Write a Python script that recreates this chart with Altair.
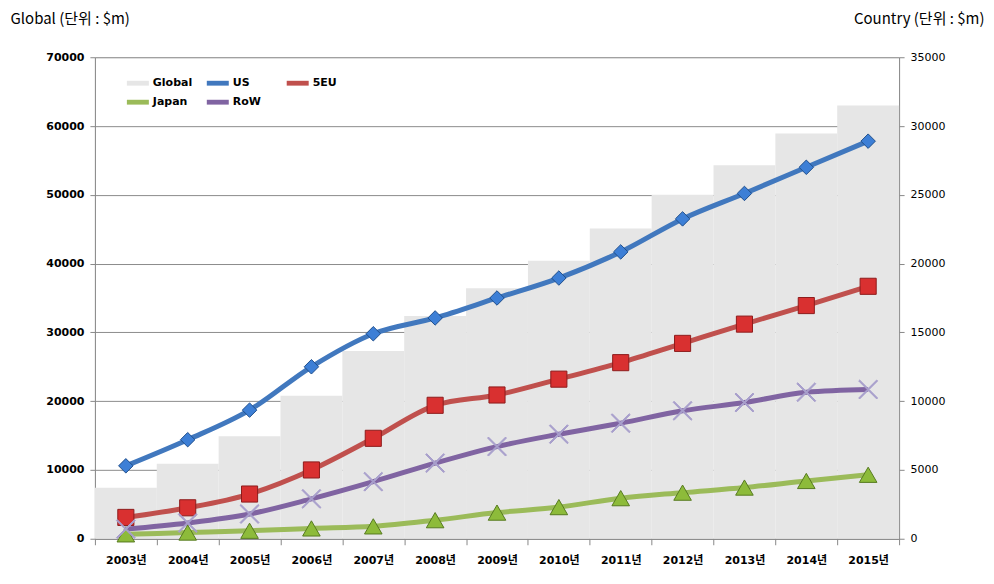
import altair as alt
import pandas as pd

years = ["2003년", "2004년", "2005년", "2006년", "2007년", "2008년", "2009년",
         "2010년", "2011년", "2012년", "2013년", "2014년", "2015년"]
global_vals = [7400, 10900, 14900, 20800, 27300, 32400, 36400, 40400, 45100, 50000, 54300, 58900, 63000]
us = [5300, 7200, 9350, 12500, 14900, 16050, 17500, 18950, 20850, 23250, 25100, 27000, 28900]
eu5 = [1550, 2250, 3250, 5000, 7300, 9700, 10450, 11600, 12800, 14200, 15600, 16950, 18350]
japan = [320, 450, 580, 750, 900, 1350, 1900, 2300, 2950, 3350, 3720, 4200, 4650]
row_ = [700, 1150, 1800, 2900, 4150, 5500, 6700, 7600, 8400, 9300, 9900, 10650, 10850]

series_all = ["Global", "US", "5EU", "Japan", "RoW"]
line_colors = ["#e6e6e6", "#4178be", "#c0504d", "#9bbb59", "#8064a2"]
countries = ["US", "5EU", "Japan", "RoW"]
marker_fill = ["#3d7fd6", "#d93030", "#8dbb3a", "#a89fcc"]
marker_stroke = ["#1f4e8c", "#8e1c1c", "#567a1f", "#a89fcc"]
marker_size = [210, 360, 240, 280]
xpath = "M-0.9,-1L0,-0.1L0.9,-1L1,-0.9L0.1,0L1,0.9L0.9,1L0,0.1L-0.9,1L-1,0.9L-0.1,0L-1,-0.9Z"
marker_shape = ["diamond", "square", "triangle-up", xpath]

gdf = pd.DataFrame({"year": years, "value": global_vals, "series": "Global"})
cdf = pd.concat([
    pd.DataFrame({"year": years, "value": vals, "series": name})
    for name, vals in zip(countries, [us, eu5, japan, row_])
], ignore_index=True)

NUMFONT = "DejaVu Sans"
KFONT = "Noto Sans CJK KR"

x = alt.X("year:N", sort=years,
          scale=alt.Scale(paddingInner=0, paddingOuter=0),
          axis=alt.Axis(title=None, labelAngle=0, tickBand="extent", tickSize=6,
                        tickColor="#888888", domainColor="#888888",
                        labelFont="DejaVu Sans, Noto Sans CJK KR", labelFontWeight="bold",
                        labelFontSize=11, labelColor="#000000", labelPadding=10))

color = alt.Color("series:N",
                  scale=alt.Scale(domain=series_all, range=line_colors),
                  legend=alt.Legend(title=None, orient="none", legendX=32, legendY=15,
                                    direction="horizontal",
                                    columns=3, gridAlign="all", columnPadding=14,
                                    rowPadding=3, padding=0,
                                    symbolType="M-1,-0.22H1V0.22H-1Z", symbolSize=484,
                                    symbolStrokeWidth=0, symbolOpacity=1,
                                    labelFont=NUMFONT, labelFontSize=11,
                                    labelFontWeight="bold", labelColor="#000000",
                                    labelOffset=4))

bars = alt.Chart(gdf).mark_bar(opacity=1).encode(
    x=x,
    y=alt.Y("value:Q", scale=alt.Scale(domain=[0, 70000]),
            axis=alt.Axis(title="Global (단위 : $m)", orient="left",
                          values=list(range(0, 70001, 10000)), format="d",
                          grid=True, gridColor="#8c8c8c", gridWidth=1,
                          tickColor="#888888", domainColor="#888888", tickSize=5,
                          labelFont=NUMFONT, labelFontSize=11, labelFontWeight="bold",
                          labelColor="#000000", labelPadding=6,
                          titleAngle=0, titleAlign="left", titleBaseline="top",
                          titleX=-85, titleY=-46, titleFont=KFONT, titleFontSize=15,
                          titleFontWeight="normal", titleColor="#000000")),
    color=color,
)

yr = alt.Y("value:Q", scale=alt.Scale(domain=[0, 35000]),
           axis=alt.Axis(title="Country (단위 : $m)", orient="right",
                         values=list(range(0, 35001, 5000)), format="d",
                         grid=False, tickColor="#888888", domainColor="#888888",
                         tickSize=5, labelFont=NUMFONT, labelFontSize=11,
                         labelFontWeight="normal", labelColor="#000000", labelPadding=6,
                         titleAngle=0, titleAlign="right", titleBaseline="top",
                         titleX=85, titleY=-46, titleFont=KFONT, titleFontSize=15,
                         titleFontWeight="normal", titleColor="#000000"))

lines = alt.Chart(cdf).mark_line(strokeWidth=5, interpolate="monotone").encode(
    x=x, y=yr,
    color=alt.Color("series:N", scale=alt.Scale(domain=series_all, range=line_colors),
                    legend=None),
    detail="series:N",
)

points = alt.Chart(cdf).mark_point(filled=True, opacity=1, strokeWidth=1).encode(
    x=x, y=yr,
    fill=alt.Fill("series:N", scale=alt.Scale(domain=countries, range=marker_fill), legend=None),
    stroke=alt.Stroke("series:N", scale=alt.Scale(domain=countries, range=marker_stroke), legend=None),
    shape=alt.Shape("series:N", scale=alt.Scale(domain=countries, range=marker_shape), legend=None),
    size=alt.Size("series:N", scale=alt.Scale(domain=countries, range=marker_size), legend=None),
)

country_layer = alt.layer(lines, points)

chart = alt.layer(bars, country_layer).resolve_scale(y="independent").properties(
    width=805, height=482,
    padding={"left": 2, "top": 3, "right": 2, "bottom": 5},
).configure_view(stroke=None).configure(background="#ffffff")

chart.save("out.html", embed_options={"renderer": "svg", "actions": False})
